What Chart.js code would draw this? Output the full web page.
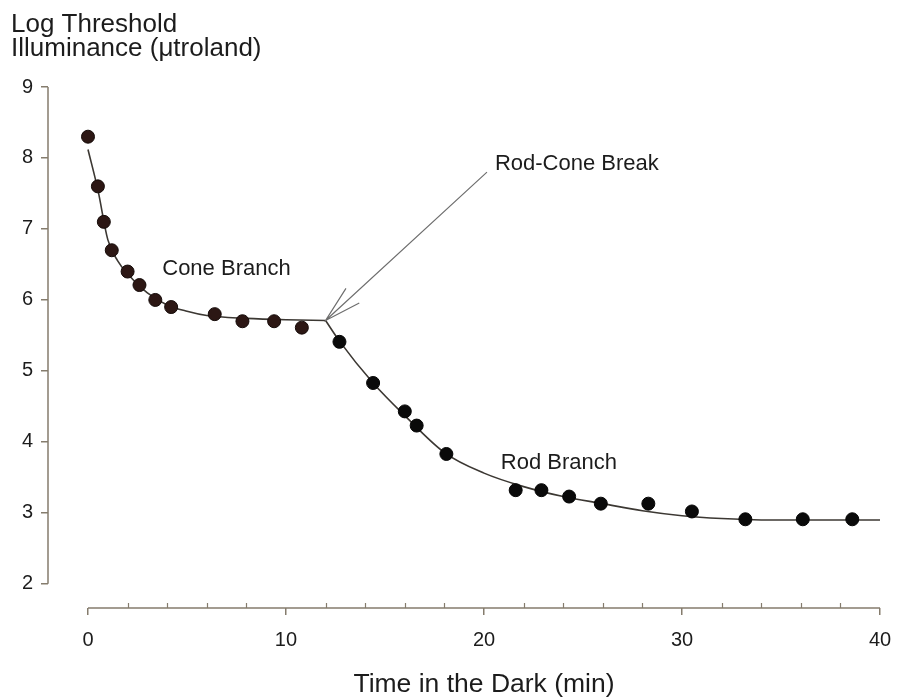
<!DOCTYPE html>
<html>
<head>
<meta charset="utf-8">
<script src="https://cdn.jsdelivr.net/npm/chart.js@4.4.0/dist/chart.umd.min.js"></script>
<style>
  html, body { margin: 0; padding: 0; background: #fff; }
  #wrap { width: 899px; height: 698px; }
</style>
</head>
<body>
<div id="wrap"><canvas id="darkAdaptationChart"></canvas></div>
<script>
// ---------- Data ----------
const coneTime = [0, 0.5, 0.8, 1.2, 2.0, 2.6, 3.4, 4.2, 6.4, 7.8, 9.4, 10.8];
const coneThreshold = [8.30, 7.60, 7.10, 6.70, 6.40, 6.21, 6.00, 5.90, 5.80, 5.70, 5.70, 5.61];

const rodTime = [12.7, 14.4, 16.0, 16.6, 18.1, 21.6, 22.9, 24.3, 25.9, 28.3, 30.5, 33.2, 36.1, 38.6];
const rodThreshold = [5.41, 4.83, 4.43, 4.23, 3.83, 3.32, 3.32, 3.23, 3.13, 3.13, 3.02, 2.91, 2.91, 2.91];

// fitted curves
const coneFitTime = [0, 0.5, 1, 1.5, 2, 3, 4, 5, 6, 8, 10, 12];
const coneFitThreshold = [8.12, 7.55, 6.85, 6.55, 6.37, 6.10, 5.93, 5.84, 5.78, 5.74, 5.72, 5.71];

const rodFitTime = [12, 12.7, 14.4, 16, 18, 20, 22, 24, 26, 28, 30, 32, 34, 37, 40];
const rodFitThreshold = [5.71, 5.42, 4.83, 4.37, 3.85, 3.56, 3.37, 3.23, 3.13, 3.03, 2.96, 2.92, 2.90, 2.90, 2.90];

const xTickValues = [0, 10, 20, 30, 40];
const xMinorTickValues = [2, 4, 6, 8, 12, 14, 16, 18, 22, 24, 26, 28, 32, 34, 36, 38];
const yTickValues = [2, 3, 4, 5, 6, 7, 8, 9];

const yTitleLines = ['Log Threshold', 'Illuminance (\u03BCtroland)'];
const xTitle = 'Time in the Dark (min)';
const annotations = [
    { text: 'Cone Branch', x: 3.75, y: 6.44 },
    { text: 'Rod Branch', x: 20.85, y: 3.70 },
    { text: 'Rod-Cone Break', x: 20.55, y: 7.91 }
];
const arrowTail = { x: 20.15, y: 7.80 };

// ---------- Styles ----------
const axisColor = '#857c6d';
const textColor = '#1c1c1c';
const fontFamily = '"Liberation Sans", Arial, Helvetica, sans-serif';

const toPoints = (xs, ys) => xs.map((v, i) => ({ x: v, y: ys[i] }));

// axis spines only over the labelled range, plus inward minor ticks on x
const axisLinesPlugin = {
    id: 'axisLines',
    beforeDatasetsDraw(chart) {
        const { ctx, chartArea, scales: { x, y } } = chart;
        ctx.save();
        ctx.strokeStyle = axisColor;
        ctx.lineWidth = 1.5;
        ctx.beginPath();
        ctx.moveTo(chartArea.left, y.getPixelForValue(yTickValues[0]));
        ctx.lineTo(chartArea.left, y.getPixelForValue(yTickValues[yTickValues.length - 1]));
        ctx.moveTo(x.getPixelForValue(xTickValues[0]), chartArea.bottom);
        ctx.lineTo(x.getPixelForValue(xTickValues[xTickValues.length - 1]), chartArea.bottom);
        ctx.stroke();
        ctx.lineWidth = 1.2;
        ctx.beginPath();
        xMinorTickValues.forEach(v => {
            const px = Math.round(x.getPixelForValue(v)) + 0.5;
            ctx.moveTo(px, chartArea.bottom);
            ctx.lineTo(px, chartArea.bottom - 5);
        });
        ctx.stroke();
        ctx.restore();
    }
};

// titles, branch labels and the break arrow
const textPlugin = {
    id: 'chartText',
    afterDraw(chart) {
        const { ctx, scales: { x, y } } = chart;
        ctx.save();
        ctx.fillStyle = textColor;

        ctx.font = '26px ' + fontFamily;
        ctx.textAlign = 'left';
        ctx.textBaseline = 'alphabetic';
        yTitleLines.forEach((line, i) => ctx.fillText(line, 11, 32 + i * 23.5));

        ctx.font = '26.5px ' + fontFamily;
        ctx.textAlign = 'center';
        const xMid = (x.getPixelForValue(xTickValues[0]) + x.getPixelForValue(xTickValues[xTickValues.length - 1])) / 2;
        ctx.fillText(xTitle, xMid, 692);

        ctx.font = '22px ' + fontFamily;
        ctx.textAlign = 'left';
        ctx.textBaseline = 'middle';
        annotations.forEach(a => ctx.fillText(a.text, x.getPixelForValue(a.x), y.getPixelForValue(a.y)));

        // arrow to the rod-cone break
        const last = coneFitTime.length - 1;
        const tipX = x.getPixelForValue(coneFitTime[last]);
        const tipY = y.getPixelForValue(coneFitThreshold[last]);
        const tailX = x.getPixelForValue(arrowTail.x);
        const tailY = y.getPixelForValue(arrowTail.y);
        const ang = Math.atan2(tailY - tipY, tailX - tipX);
        const headLen = 38, spread = 15 * Math.PI / 180;
        ctx.strokeStyle = '#6e6e6e';
        ctx.lineWidth = 1.2;
        ctx.beginPath();
        ctx.moveTo(tailX, tailY);
        ctx.lineTo(tipX, tipY);
        ctx.moveTo(tipX + headLen * Math.cos(ang - spread), tipY + headLen * Math.sin(ang - spread));
        ctx.lineTo(tipX, tipY);
        ctx.lineTo(tipX + headLen * Math.cos(ang + spread), tipY + headLen * Math.sin(ang + spread));
        ctx.stroke();
        ctx.restore();
    }
};

new Chart(document.getElementById('darkAdaptationChart'), {
    type: 'scatter',
    data: {
        datasets: [{
            label: 'Cone thresholds',
            data: toPoints(coneTime, coneThreshold),
            pointRadius: 6.5,
            pointBackgroundColor: '#2c1714',
            pointBorderColor: '#140a08',
            pointBorderWidth: 1
        }, {
            label: 'Rod thresholds',
            data: toPoints(rodTime, rodThreshold),
            pointRadius: 6.5,
            pointBackgroundColor: '#0a0a0a',
            pointBorderColor: '#050505',
            pointBorderWidth: 1
        }, {
            label: 'Cone fit',
            data: toPoints(coneFitTime, coneFitThreshold),
            showLine: true,
            pointRadius: 0,
            borderColor: '#3c3833',
            borderWidth: 1.6,
            cubicInterpolationMode: 'monotone',
            fill: false
        }, {
            label: 'Rod fit',
            data: toPoints(rodFitTime, rodFitThreshold),
            showLine: true,
            pointRadius: 0,
            borderColor: '#3c3833',
            borderWidth: 1.6,
            cubicInterpolationMode: 'monotone',
            fill: false
        }]
    },
    options: {
        responsive: true,
        maintainAspectRatio: false,
        animation: false,
        layout: { padding: { top: 87, left: 13, right: 19, bottom: 0 } },
        plugins: {
            legend: { display: false },
            tooltip: { enabled: false },
            title: { display: false }
        },
        scales: {
            x: {
                type: 'linear',
                min: -2.02,
                max: 40,
                afterBuildTicks: s => { s.ticks = xTickValues.map(v => ({ value: v })); },
                afterFit: s => { s.height = 90; s.paddingLeft = 0; s.paddingRight = 0; },
                border: { display: false },
                grid: { drawOnChartArea: false, color: axisColor, lineWidth: 1.5, tickLength: 7 },
                ticks: { color: textColor, font: { family: fontFamily, size: 20 }, padding: 13, maxRotation: 0, autoSkip: false }
            },
            y: {
                type: 'linear',
                min: 1.66,
                max: 9,
                afterBuildTicks: s => { s.ticks = yTickValues.map(v => ({ value: v })); },
                afterFit: s => { s.width = 35; s.paddingTop = 0; s.paddingBottom = 0; },
                border: { display: false },
                grid: { drawOnChartArea: false, color: axisColor, lineWidth: 1.5, tickLength: 7 },
                ticks: { color: textColor, font: { family: fontFamily, size: 20 }, padding: 8 }
            }
        }
    },
    plugins: [axisLinesPlugin, textPlugin]
});
</script>
</body>
</html>
